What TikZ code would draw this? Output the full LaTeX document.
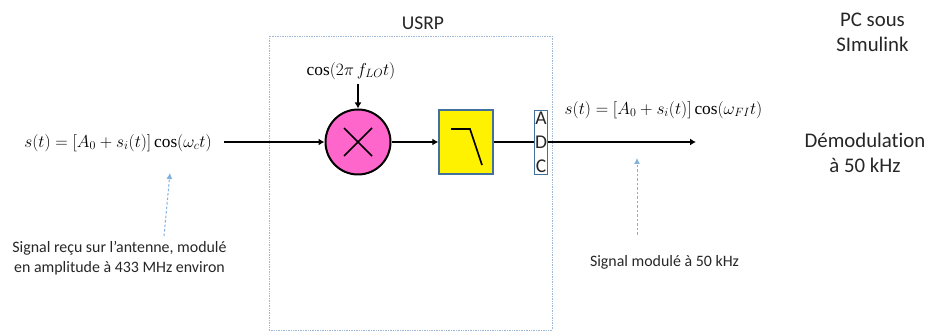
\documentclass[tikz,border=0pt]{standalone}
\usepackage{fontspec}
\setmainfont{Carlito}[Ligatures=NoCommon]
\newfontfamily\serifcos{Liberation Serif}
\newcommand\Cosn{\mathop{\mbox{\serifcos cos}}\nolimits}
\usetikzlibrary{arrows.meta}
\definecolor{boxblue}{HTML}{9DB7D5}
\definecolor{edgeblue}{HTML}{41719C}
\definecolor{dotblue}{HTML}{7FB1DE}
\definecolor{txt}{HTML}{262626}
\tikzset{
  x=1pt,y=-1pt,
  sig/.style={draw=black,line width=2pt,-{Latex[length=6pt,width=7pt]}},
  plain/.style={draw=black,line width=2pt},
  note/.style={-{Latex[length=6pt,width=6pt]},draw=dotblue,line width=1pt,dash pattern=on 2.5pt off 2pt},
  lab/.style={inner sep=0pt,text=txt,align=center},
  eq/.style={inner sep=0pt,text=black,font=\fontsize{17.3}{20}\selectfont},
  small/.style={lab,font=\fontsize{15.9}{19.5}\selectfont},
  big/.style={lab,font=\fontsize{20.8}{25}\selectfont},
  caps/.style={lab,font=\fontsize{19.5}{22}\selectfont},
}
\begin{document}
\begin{tikzpicture}
\useasboundingbox (0,0) rectangle (927,331);
\node[draw=boxblue,line width=0.7pt,densely dotted,minimum width=283pt,minimum height=294pt,inner sep=0pt] (usrp) at (410.5,183) {};
\node[caps] (usrpl) at (423,23) {USRP};
\node[draw=black,fill={rgb,255:red,255;green,102;blue,204},circle,line width=2pt,minimum size=65pt,inner sep=0pt] (mix) at (358,142) {};
\draw[black,line width=1.6pt] (mix.center) ++(-14,-14) -- ++(28,28) (mix.center) ++(14,-14) -- ++(-28,28);
\node[draw=edgeblue,fill=yellow,line width=1.4pt,minimum width=54pt,minimum height=64pt,inner sep=0pt] (filt) at (466,142) {};
\draw[black,line width=1.7pt] (451,129) -- (470,129) -- (482,165);
\node[draw=edgeblue,fill=white,line width=0.8pt,minimum width=13pt,minimum height=64pt,inner sep=0pt] (adc) at (541,142) {};
\node[caps] (la) at (541,118) {A};
\node[caps] (ld) at (541,142.5) {D};
\node[caps] (lc) at (541,166) {C};
\node[eq] (ins) at (118,143) {$s(t)=[A_0+s_i(t)]\Cosn(\omega_c t)$};
\node[eq] (outs) at (663.5,110) {$s(t)=[A_0+s_i(t)]\Cosn(\omega_{FI} t)$};
\node[eq] (lo) at (351,71) {$\Cosn(2\pi\, f_{LO} t)$};
\coordinate (inS) at (224,142);
\coordinate (outE) at (696,142);
\coordinate (loS) at (358,84);
\path[sig] (inS) -- (mix.west);
\path[sig] (loS) -- (mix.north);
\path[sig] (mix.east) -- (filt.west);
\path[plain] (filt.east) -- (adc.west);
\path[sig] (adc.east) -- (outE);
\node[small] (n1) at (119.5,258) {Signal reçu sur l\symbol{39}antenne, modulé\\en amplitude à 433 MHz environ};
\node[small] (n2) at (664.5,262) {Signal modulé à 50 kHz};
\coordinate (n1s) at (164,236);
\coordinate (n1e) at (170,173);
\coordinate (n2s) at (637,235);
\coordinate (n2e) at (637,158);
\path[note] (n1s) -- (n1e);
\path[note] (n2s) -- (n2e);
\node[big] (pc) at (872.5,32) {PC sous\\SImulink};
\node[big] (dem) at (865,153) {Démodulation\\à 50 kHz};
\end{tikzpicture}
\end{document}
